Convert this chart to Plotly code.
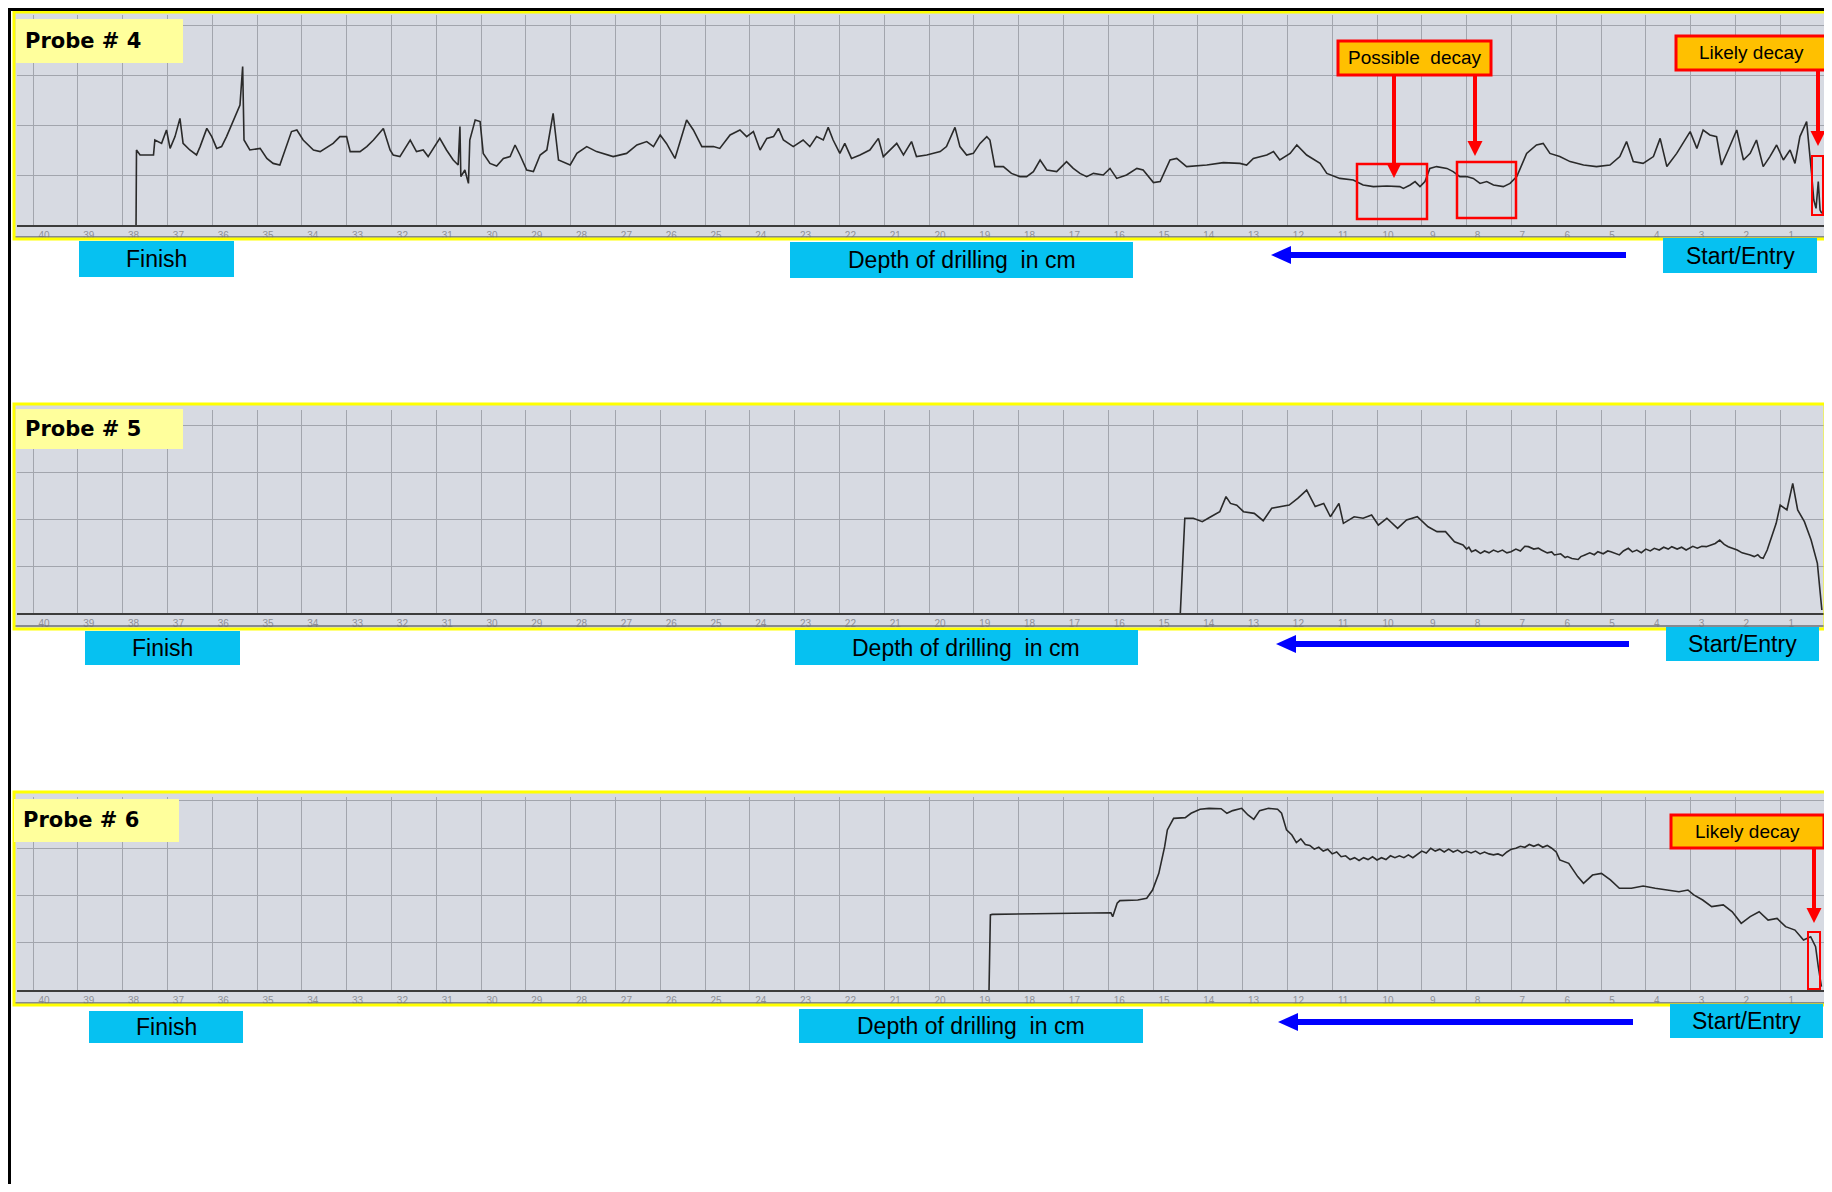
import plotly.graph_objects as go

# ---------------- data (depth in cm, relative drilling resistance) ----------------
depth4 = [37.70, 37.69, 37.61, 37.31, 37.28, 37.13, 37.02, 36.94, 36.83, 36.72, 36.65, 36.50, 36.35, 36.27,
          36.12, 36.01, 35.90, 35.79, 35.68, 35.53, 35.38, 35.32, 35.29, 35.16, 34.93, 34.78, 34.64, 34.49,
          34.38, 34.23, 34.11, 33.97, 33.74, 33.59, 33.30, 33.15, 33.00, 32.92, 32.70, 32.55, 32.40, 32.18,
          32.03, 31.96, 31.81, 31.58, 31.44, 31.29, 31.18, 31.06, 30.92, 30.77, 30.62, 30.51, 30.47, 30.45,
          30.36, 30.28, 30.25, 30.13, 30.02, 29.95, 29.80, 29.65, 29.50, 29.35, 29.24, 29.13, 28.98, 28.83,
          28.68, 28.53, 28.39, 28.27, 28.01, 27.86, 27.64, 27.42, 27.05, 26.75, 26.52, 26.30, 26.15, 26.00,
          25.86, 25.67, 25.41, 25.26, 25.07, 24.81, 24.67, 24.44, 24.22, 24.07, 23.92, 23.77, 23.62, 23.47,
          23.36, 23.25, 23.03, 22.81, 22.66, 22.51, 22.36, 22.25, 22.14, 21.99, 21.88, 21.73, 21.54, 21.32,
          21.13, 21.02, 20.72, 20.57, 20.39, 20.28, 20.05, 19.75, 19.61, 19.42, 19.31,
          19.16, 19.01, 18.86, 18.71, 18.64, 18.53, 18.34, 18.16, 17.97, 17.82, 17.67, 17.52, 17.37, 17.15,
          16.93, 16.78, 16.63, 16.48, 16.33, 16.11, 15.96, 15.81, 15.59, 15.36, 15.22, 14.99, 14.84, 14.62,
          14.47, 14.25, 13.80, 13.43, 13.06, 12.91, 12.76, 12.46, 12.31, 12.17, 11.94, 11.79, 11.57, 11.27,
          11.12, 10.83, 10.53, 10.31, 10.08,
          9.78, 9.49, 9.41, 9.26, 9.15, 9.04, 8.93, 8.82, 8.67, 8.44, 8.30, 8.15, 8.00, 7.85, 7.70, 7.55,
          7.40, 7.18, 7.03, 6.88, 6.66, 6.44, 6.29, 6.14, 5.92, 5.69, 5.39, 5.10, 4.80, 4.58, 4.43, 4.28,
          4.06, 3.83, 3.68, 3.53, 3.31, 3.01, 2.86, 2.72, 2.57, 2.42, 2.31, 2.16, 1.97, 1.82, 1.67, 1.53,
          1.38, 1.23, 1.08, 0.93, 0.78, 0.67, 0.56, 0.41, 0.35, 0.30, 0.25, 0.20, 0.15, 0.11, 0.07]
res4 = [0, 37.5, 35, 35, 42.5, 40.8, 47.5, 38.3, 44.2, 53.3, 40.8, 37.5, 35, 39.2,
        48.3, 44.2, 38.3, 39.2, 44.2, 52.5, 60, 79.2, 42.5, 37.5, 38.3, 33.3, 30.8, 30,
        37.5, 46.7, 47.5, 42.5, 37.5, 36.7, 40.8, 44.2, 44.2, 36.7, 36.7, 39.2, 42.5, 48.3,
        37.5, 35, 34.2, 42.5, 36.7, 37.5, 34.2, 38.3, 43.3, 37.5, 32.5, 30, 49.2, 24.2,
        27.5, 20.8, 42.5, 52.5, 51.7, 35.8, 30.8, 29.5, 33.3, 34.2, 40, 35, 27.5, 26.7,
        35, 37.5, 55.8, 32.5, 30, 35.8, 39.2, 36.7, 34.2, 35.8, 40, 41.7, 39.2, 45,
        40.8, 33.3, 52.5, 47.5, 39.2, 39.2, 38.3, 45, 47.5, 44.2, 46.7, 37.5, 43.3, 44.2,
        48.3, 42.5, 39.2, 42.5, 39.2, 44.2, 42.5, 48.8, 42.5, 35.8, 40.8, 33.3, 35, 37.5,
        43.3, 34.2, 40.8, 35, 41.7, 34.2, 35, 36.7, 39.2, 48.8, 39.2,
        35, 35.8, 40.8, 44.2, 42.5, 29.2, 29.2, 25.8, 24.2, 24.2, 26.7, 32.5, 27.5, 26.7,
        31.7, 28.3, 25.8, 24.2, 25.8, 25, 28.3, 23.3, 25, 28.3, 27.5, 21.2, 21.7, 32.5,
        33.3, 29.2, 30, 31.2, 30.8, 30, 33.3, 35, 36.7, 32.5, 35.8, 40, 35, 30.8,
        25.8, 23.3, 22.5, 20, 19.2,
        19.5, 19.2, 18.3, 20, 21.7, 19.2, 21.7, 28.3, 29.2, 28.3, 26.7, 24.2, 24.2, 23.3, 20.8, 21.7,
        20, 19.2, 20.8, 24.2, 35.8, 40, 40.8, 35.8, 34.2, 31.7, 30, 29.2, 30, 34.2, 41.7, 31.7,
        30.8, 34.2, 43.3, 29.2, 35.8, 46.7, 38.3, 47.5, 45, 44.2, 30, 37.5, 47.5, 32.5, 35.8, 42.5,
        29.2, 34.2, 40, 32.5, 37.5, 30.8, 44.2, 51.7, 39.2, 25.8, 12.5, 8.3, 21.7, 7.5, 5.8]

depth5 = [14.39, 14.29, 14.10, 13.90, 13.71, 13.51, 13.37, 13.27, 13.13, 12.98, 12.74, 12.54, 12.35, 12.16,
          11.96, 11.77, 11.57, 11.38, 11.19, 11.04, 10.94, 10.85, 10.75, 10.51, 10.31, 10.12, 9.97, 9.78,
          9.54, 9.34, 9.10, 8.86, 8.66, 8.47, 8.27, 8.08,
          8.00, 7.95, 7.89, 7.80, 7.69, 7.60, 7.50, 7.40, 7.30, 7.20, 7.10, 7.01, 6.90, 6.80, 6.70, 6.62,
          6.50, 6.40, 6.33, 6.20, 6.10, 6.04, 5.90, 5.80, 5.75, 5.65, 5.51, 5.45, 5.36, 5.25, 5.15, 5.07,
          4.95, 4.85, 4.78, 4.68, 4.59, 4.50, 4.39, 4.30, 4.20, 4.10, 4.00, 3.90, 3.81, 3.70, 3.60, 3.50,
          3.42, 3.30, 3.20, 3.10, 3.03, 2.95, 2.85, 2.75, 2.65, 2.55, 2.45, 2.35, 2.25, 2.16, 2.05, 1.96,
          1.85, 1.75, 1.67, 1.58, 1.50, 1.44, 1.38,
          1.29, 1.09, 1.00, 0.85, 0.72, 0.61, 0.46, 0.31, 0.17, 0.07]
res5 = [0, 50.4, 50.4, 48.6, 51.2, 53.9, 61.9, 58.3, 57.4, 53.9, 53.0, 49.1, 55.7, 56.6,
        57.4, 61.0, 65.4, 56.6, 58.3, 51.2, 54.8, 58.3, 47.7, 51.2, 50.4, 52.1, 46.8, 50.4,
        45.0, 49.5, 51.2, 45.9, 43.3, 43.3, 37.9, 36.2,
        34, 35, 32.6, 33.5, 31.7, 33, 32, 33.5, 32.5, 33.5, 32, 32.6, 34, 33, 35.5, 35.3,
        34, 34.5, 33.5, 32, 32.5, 30.9, 31.5, 29.5, 30.0, 29, 28.5, 30, 30.9, 32, 31, 32.6,
        31.5, 33, 32.6, 31.5, 30.9, 33, 34.4, 32.5, 33.5, 32.1, 34, 33, 34.4, 33.5, 35, 34,
        35.3, 34, 35, 33.5, 34.4, 35.5, 34.5, 35.5, 35.3, 36, 37, 38.8, 36.5, 35.3, 34.5, 33.5,
        32, 31.5, 30.9, 30, 31, 29.5, 29.1,
        33.5, 47.7, 57.4, 54.8, 69.0, 54.8, 48.6, 38.8, 26.4, 1.6]

depth6 = [18.66, 18.63, 18.59, 17.33, 15.94, 15.90, 15.80, 15.74, 15.34, 15.14, 15.01, 14.87, 14.74, 14.68,
          14.54, 14.28, 14.15, 13.95, 13.75, 13.48, 13.35, 13.22, 13.02, 12.88, 12.75, 12.62, 12.42, 12.22,
          12.13, 12.02,
          11.9, 11.8, 11.7, 11.6, 11.5, 11.4, 11.3, 11.2, 11.1, 11.0,
          10.9, 10.8, 10.7, 10.6, 10.5, 10.4, 10.3, 10.2, 10.1, 10.0,
          9.9, 9.8, 9.7, 9.6, 9.5, 9.4, 9.3, 9.2, 9.1, 9.0,
          8.9, 8.8, 8.7, 8.6, 8.5, 8.4, 8.3, 8.2, 8.1, 8.0,
          7.9, 7.8, 7.7, 7.6, 7.5, 7.4, 7.3, 7.2, 7.1, 7.0,
          6.9, 6.8, 6.7, 6.6, 6.5, 6.4, 6.3, 6.2, 6.1, 6.0,
          5.92, 5.72, 5.52, 5.39, 5.19, 4.99, 4.79, 4.59, 4.32,
          4.06, 3.79, 3.53, 3.26, 3.06, 2.93, 2.73, 2.53, 2.27, 2.07, 1.87, 1.67, 1.47, 1.27, 1.07, 0.88,
          0.67, 0.48, 0.32, 0.21, 0.15, 0.08]
res6 = [0, 39.7, 40.0, 40.3, 40.9, 38.8, 45.9, 47.3, 47.6, 48.5, 52.9, 61.7, 75.8, 84.7,
        90.8, 91.2, 93.5, 95.6, 96.1, 95.9, 93.5, 94.9, 96.1, 92.6, 90.3, 94.9, 96.1, 95.6,
        93.5, 84.7,
        82, 78, 80, 77, 76.5, 74.5, 75.5, 73.5, 74.5, 72,
        73, 70.5, 71, 69, 70, 68.5, 70, 69, 70.5, 68.8,
        70, 69, 71, 70, 71, 70, 71.5, 70, 72, 73.5,
        72.5, 75, 73.5, 74.5, 73, 74.5, 73, 74, 72.5, 73.5,
        72.5, 73.5, 72, 73, 72, 71.5, 72, 71, 73, 74.5,
        75, 76, 75.5, 77, 76, 77, 75.5, 76.5, 75, 73,
        68.8, 67.0, 60.0, 56.4, 60.8, 61.7, 58.2, 53.8, 53.8,
        55.0, 53.8, 52.9, 52.0, 52.9, 50.3, 47.6, 44.1, 45.0, 41.4, 35.3, 38.8, 41.4, 37.0, 37.9, 33.5,
        31.7, 26.5, 28.2, 22.9, 12.3, 1.8]

tick_depths = list(range(40, 0, -1))
tick_labels = [str(t) for t in tick_depths]
probe_names = ["Probe # 4", "Probe # 5", "Probe # 6"]
box_texts = ["Finish", "Depth of drilling  in cm", "Start/Entry"]

# ---------------- layout helpers (page pixels -> paper) ----------------
W, H, OFF = 1824, 1176, 8
def px(x):
    return min(max((x - OFF) / W, 0), 1)
def py(y):
    return min(max(1 - (y - OFF) / H, 0), 1)

BG = "#d7dae2"
GRID = "#a2a5ad"
CYAN = "#06c1f1"
ORANGE = "#ffc000"
RED = "#ff0000"
BLUE = "#0000ff"

panels = [
    dict(frame=(14, 12, 1827, 239), plot=(17, 15, 225), vmax=105.0, strip=237,
         label=(16, 19, 183, 63, 23, 41),
         boxes=[(79, 241, 234, 277), (790, 242, 1133, 278), (1663, 238, 1817, 273)],
         arrow=(1626, 1271, 255)),
    dict(frame=(14, 404, 1825, 629), plot=(17, 410, 613), vmax=108.0, strip=626,
         label=(16, 409, 183, 449, 23, 429),
         boxes=[(85, 631, 240, 665), (795, 630, 1138, 665), (1666, 627, 1819, 661)],
         arrow=(1629, 1276, 644)),
    dict(frame=(14, 792, 1827, 1005), plot=(17, 797, 990), vmax=102.1, strip=1003,
         label=(14, 799, 179, 842, 21, 820),
         boxes=[(89, 1011, 243, 1043), (799, 1009, 1143, 1043), (1670, 1004, 1823, 1038)],
         arrow=(1633, 1278, 1022)),
]

fig = go.Figure()
series = [(depth4, res4), (depth5, res5), (depth6, res6)]
shapes = []
annotations = []
layout_axes = {}

def rect(x0, y0, x1, y1, fill=None, line=None, lw=0, layer="above"):
    d = dict(type="rect", xref="paper", yref="paper", x0=px(x0), x1=px(x1), y0=py(y1), y1=py(y0),
             layer=layer, line=dict(width=lw, color=line if line else "rgba(0,0,0,0)"))
    d["fillcolor"] = fill if fill else "rgba(0,0,0,0)"
    return d

def hline(x0, x1, y, color, w):
    return dict(type="line", xref="paper", yref="paper", x0=px(x0), x1=px(x1), y0=py(y), y1=py(y),
                line=dict(color=color, width=w), layer="above")

def vline(x, y0, y1, color, w):
    return dict(type="line", xref="paper", yref="paper", x0=px(x), x1=px(x), y0=py(y0), y1=py(y1),
                line=dict(color=color, width=w), layer="above")

def tri(pts, color):
    path = "M " + " L ".join(f"{px(a)},{py(b)}" for a, b in pts) + " Z"
    return dict(type="path", xref="paper", yref="paper", path=path, fillcolor=color,
                line=dict(color=color, width=0), layer="above")

def down_arrow(x, y0, tip, color=RED, w=4, hl=15, hw=7.5):
    return [vline(x, y0, tip - hl + 1, color, w), tri([(x - hw, tip - hl), (x + hw, tip - hl), (x, tip)], color)]

for i, (p, (dx, dy)) in enumerate(zip(panels, series)):
    n = "" if i == 0 else str(i + 1)
    fx0, fy0, fx1, fy1 = p["frame"]
    left, top, bottom = p["plot"]
    shapes.append(rect(fx0, fy0, fx1, fy1, fill=BG, layer="below"))
    fig.add_trace(go.Scatter(x=dx, y=dy, mode="lines", line=dict(color="#2a2a2a", width=1.6),
                             xaxis="x" + n, yaxis="y" + n, showlegend=False, hoverinfo="skip"))
    d_left = 40 + (33 - left) / 44.8
    d_right = (1825 - (OFF + W)) / 44.8
    layout_axes["xaxis" + n] = dict(domain=[px(left), 1.0], range=[d_left, d_right], anchor="y" + n,
                                    tickvals=tick_depths, ticktext=tick_labels, ticks="",
                                    showgrid=True, gridcolor=GRID, gridwidth=1, zeroline=False,
                                    showline=True, linecolor="#3c3c3c", linewidth=2,
                                    tickfont=dict(family="Liberation Sans", size=10, color="#8e9096"),
                                    ticklabelshift=-11, ticklabelstandoff=0, fixedrange=True)
    layout_axes["yaxis" + n] = dict(domain=[py(bottom), py(top)], range=[0, p["vmax"]], anchor="x" + n,
                                    tickvals=[25, 50, 75, 100], showticklabels=False, ticks="",
                                    showgrid=True, gridcolor=GRID, gridwidth=1, zeroline=False,
                                    showline=False, fixedrange=True)
    shapes.append(hline(fx0, fx1, p["strip"], "#6d6f75", 1.5))
    # frame
    shapes.append(rect(fx0, fy0, fx1, fy1, line="#ffff00", lw=3))
    # probe label
    lx0, ly0, lx1, ly1, tx, ty = p["label"]
    shapes.append(rect(lx0, ly0, lx1, ly1, fill="#ffff9c"))
    annotations.append(dict(xref="paper", yref="paper", x=px(tx), y=py(ty), xanchor="left", yanchor="middle",
                            text="<b>" + probe_names[i] + "</b>", showarrow=False,
                            font=dict(family="DejaVu Sans", size=21, color="#000000")))
    # cyan boxes
    for (bx0, by0, bx1, by1), t in zip(p["boxes"], box_texts):
        shapes.append(rect(bx0, by0, bx1, by1, fill=CYAN))
        annotations.append(dict(xref="paper", yref="paper", x=px((bx0 + bx1) / 2), y=py((by0 + by1) / 2),
                                xanchor="center", yanchor="middle", text=t, showarrow=False,
                                font=dict(family="Liberation Sans", size=23, color="#000000")))
    # blue arrow (pointing left)
    ax_tail, ax_tip, ay = p["arrow"]
    shapes.append(hline(ax_tip + 18, ax_tail, ay, BLUE, 6))
    shapes.append(tri([(ax_tip + 20, ay - 9), (ax_tip + 20, ay + 9), (ax_tip, ay)], BLUE))

# decay annotations
def note_box(x0, y0, x1, y1, text):
    shapes.append(rect(x0, y0, x1, y1, fill=ORANGE, line=RED, lw=3))
    annotations.append(dict(xref="paper", yref="paper", x=px((x0 + x1) / 2), y=py((y0 + y1) / 2),
                            xanchor="center", yanchor="middle", text=text, showarrow=False,
                            font=dict(family="Liberation Sans", size=19, color="#000000")))

note_box(1338, 41, 1491, 75, "Possible&nbsp;&nbsp;decay")
note_box(1676, 36, 1827, 70, "Likely decay")
note_box(1671, 815, 1824, 848, "Likely decay")
shapes += down_arrow(1394, 76, 178)
shapes += down_arrow(1475, 76, 156)
shapes += down_arrow(1818, 71, 146)
shapes += down_arrow(1814, 849, 923)
shapes.append(rect(1357, 164, 1427, 219, line=RED, lw=2.5))
shapes.append(rect(1457, 162, 1516, 218, line=RED, lw=2.5))
shapes.append(rect(1812, 156, 1823, 215, line=RED, lw=2))
shapes.append(rect(1808, 932, 1820, 989, line=RED, lw=2))

# page border (left and top black lines)
shapes.append(rect(OFF, OFF, OFF + 3, 1192, fill="#000000"))
shapes.append(rect(OFF, OFF, OFF + W, OFF + 3, fill="#000000"))

fig.update_layout(width=W, height=H, margin=dict(l=0, r=0, t=0, b=0), autosize=False,
                  paper_bgcolor="#ffffff", plot_bgcolor=BG, shapes=shapes, annotations=annotations,
                  showlegend=False, hovermode=False, **layout_axes)

fig.write_html("out.html", config={"displayModeBar": False})
